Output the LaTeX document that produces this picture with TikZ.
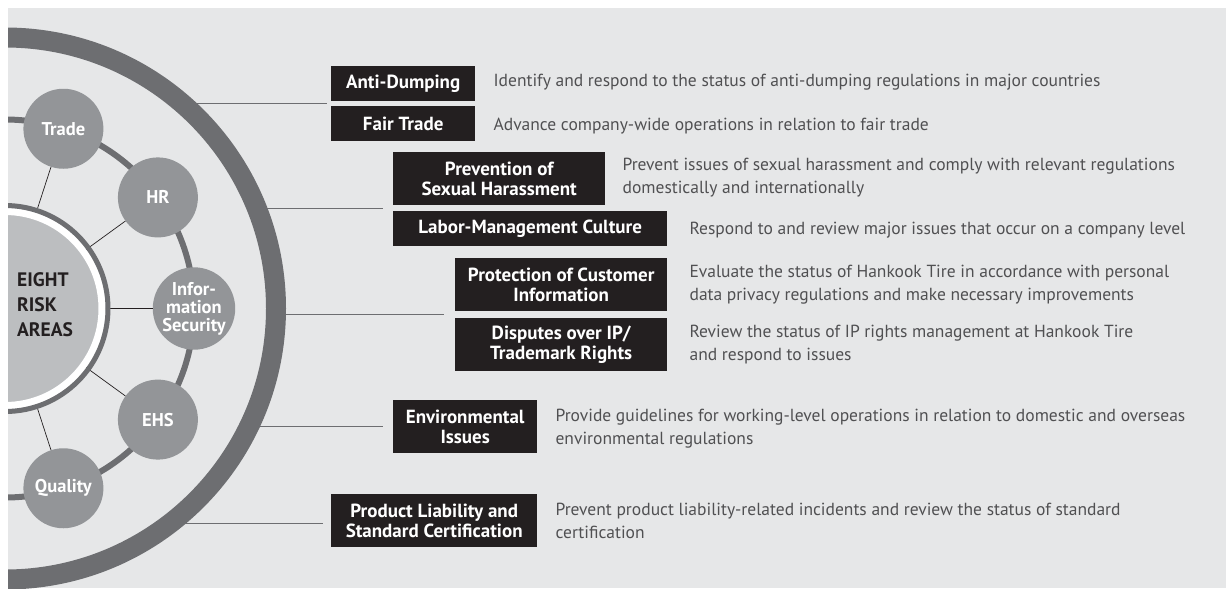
\documentclass[tikz,border=0pt]{standalone}
\usepackage{fontspec}
\setmainfont{PT Sans}
\definecolor{HKbg}{HTML}{E6E7E8}
\definecolor{HKring}{HTML}{6D6E71}
\definecolor{HKdot}{HTML}{939598}
\definecolor{HKcore}{HTML}{BCBEC0}
\definecolor{HKbox}{HTML}{231F20}
\definecolor{HKtext}{HTML}{505052}
\usetikzlibrary{calc, positioning}

\begin{document}
\begin{tikzpicture}[x=1pt, y=-1pt,
   riskbox/.style={fill=HKbox, text=white, inner sep=0pt, anchor=north west,
      align=center, font=\bfseries\fontsize{19}{19.5}\selectfont},
   desc/.style={text=HKtext, inner sep=0pt, anchor=west, align=left,
      font=\fontsize{17.5}{22.5}\selectfont},
   area/.style={circle, fill=HKdot, text=white, minimum size=80pt, inner sep=0pt,
      align=center, font=\bfseries\fontsize{18.5}{18}\selectfont},
   link/.style={HKring, line width=1.4pt},
   spoke/.style={HKbox, line width=0.7pt}]
   \useasboundingbox (0,0) rectangle (1226,598);
   \fill[HKbg] (8,8) rectangle (1226,588);
   \coordinate (O) at (5,308.5);

   % Boxes on the right
   \node[riskbox, minimum width=144pt, minimum height=35pt] (ad) at (331,66) {Anti-Dumping};
   \node[riskbox, minimum width=144pt, minimum height=35pt] (ft) at (331,106) {Fair Trade};
   \node[riskbox, minimum width=212pt, minimum height=53pt] (sh) at (393,152) {Prevention of\\Sexual Harassment};
   \node[riskbox, minimum width=274pt, minimum height=35pt] (lm) at (393,211) {Labor-Management Culture};
   \node[riskbox, minimum width=212pt, minimum height=53pt] (ci) at (455,258) {Protection of Customer\\Information};
   \node[riskbox, minimum width=212pt, minimum height=53pt] (ip) at (455,318) {Disputes over IP/\\Trademark Rights};
   \node[riskbox, minimum width=144pt, minimum height=53pt] (env) at (393,400) {Environmental\\Issues};
   \node[riskbox, minimum width=206pt, minimum height=53pt] (pl) at (331,494) {Product Liability and\\Standard Certification};

   % Descriptions
   \node[desc] (adtxt) at ($(ad.east)+(18,-2)$) {Identify and respond to the status of anti-dumping regulations in major countries};
   \node[desc] (fttxt) at ($(ft.east)+(18,2)$) {Advance company-wide operations in relation to fair trade};
   \node[desc] (shtxt) at ($(sh.east)+(17,-1)$) {Prevent issues of sexual harassment and comply with relevant regulations\\domestically and internationally};
   \node[desc] (lmtxt) at ($(lm.east)+(22,1)$) {Respond to and review major issues that occur on a company level};
   \node[desc] (citxt) at ($(ci.east)+(22,0)$) {Evaluate the status of Hankook Tire in accordance with personal\\data privacy regulations and make necessary improvements};
   \node[desc] (iptxt) at ($(ip.east)+(22,0)$) {Review the status of IP rights management at Hankook Tire\\and respond to issues};
   \node[desc] (envtxt) at ($(env.east)+(18,2)$) {Provide guidelines for working-level operations in relation to domestic and overseas\\environmental regulations};
   \node[desc] (pltxt) at ($(pl.east)+(18,0)$) {Prevent product liability-related incidents and review the status of standard\\certification};

   \begin{scope}
      \clip (8,8) rectangle (1226,588);
      % Connectors from the outer ring
      \coordinate (e1) at ($(ad.south west)!.5!(ft.north west)+(-4,0)$);
      \coordinate (e2) at ($(sh.south west)!.5!(lm.north west)+(-10,0)$);
      \coordinate (e3) at ($(ci.south west)!.5!(ip.north west)+(-11,0)$);
      \coordinate (e4) at ($(env.west)+(-10,0)$);
      \coordinate (e5) at ($(pl.west)+(-8,2.5)$);
      \path (e1) ++(-147,0) coordinate (s1);
      \path (e2) ++(-128,0) coordinate (s2);
      \path (e3) ++(-169,0) coordinate (s3);
      \path (e4) ++(-133,0) coordinate (s4);
      \path (e5) ++(-153,0) coordinate (s5);
      \foreach \i in {1,...,5}
         \draw[link] (s\i) -- (e\i);
      % Rings
      \draw[HKring, line width=20pt] (O) circle (271);
      \draw[HKring, line width=6pt] (O) circle (189);
      % Core circle
      \node[circle, fill=HKcore, draw=white, line width=7pt, minimum size=194pt] (eight) at (O) {};
      % Risk areas on the middle ring
      \foreach \ang/\name/\txt in {-72/trade/Trade, -36/hr/HR, 0/info/{Infor-\\mation\\Security}, 36/ehs/EHS, 72/qual/Quality}{
         \node[area] (\name) at ($(O)+(\ang:189)$) {\txt};
         \draw[spoke] (eight) -- (\name);
      }
      \draw[HKring, line width=5pt] (O) circle (103);
      \node[anchor=west, align=left, inner sep=0pt, text=HKbox,
         font=\bfseries\fontsize{19.5}{25}\selectfont] (core) at (17,305) {EIGHT\\RISK\\AREAS};
   \end{scope}
\end{tikzpicture}
\end{document}
